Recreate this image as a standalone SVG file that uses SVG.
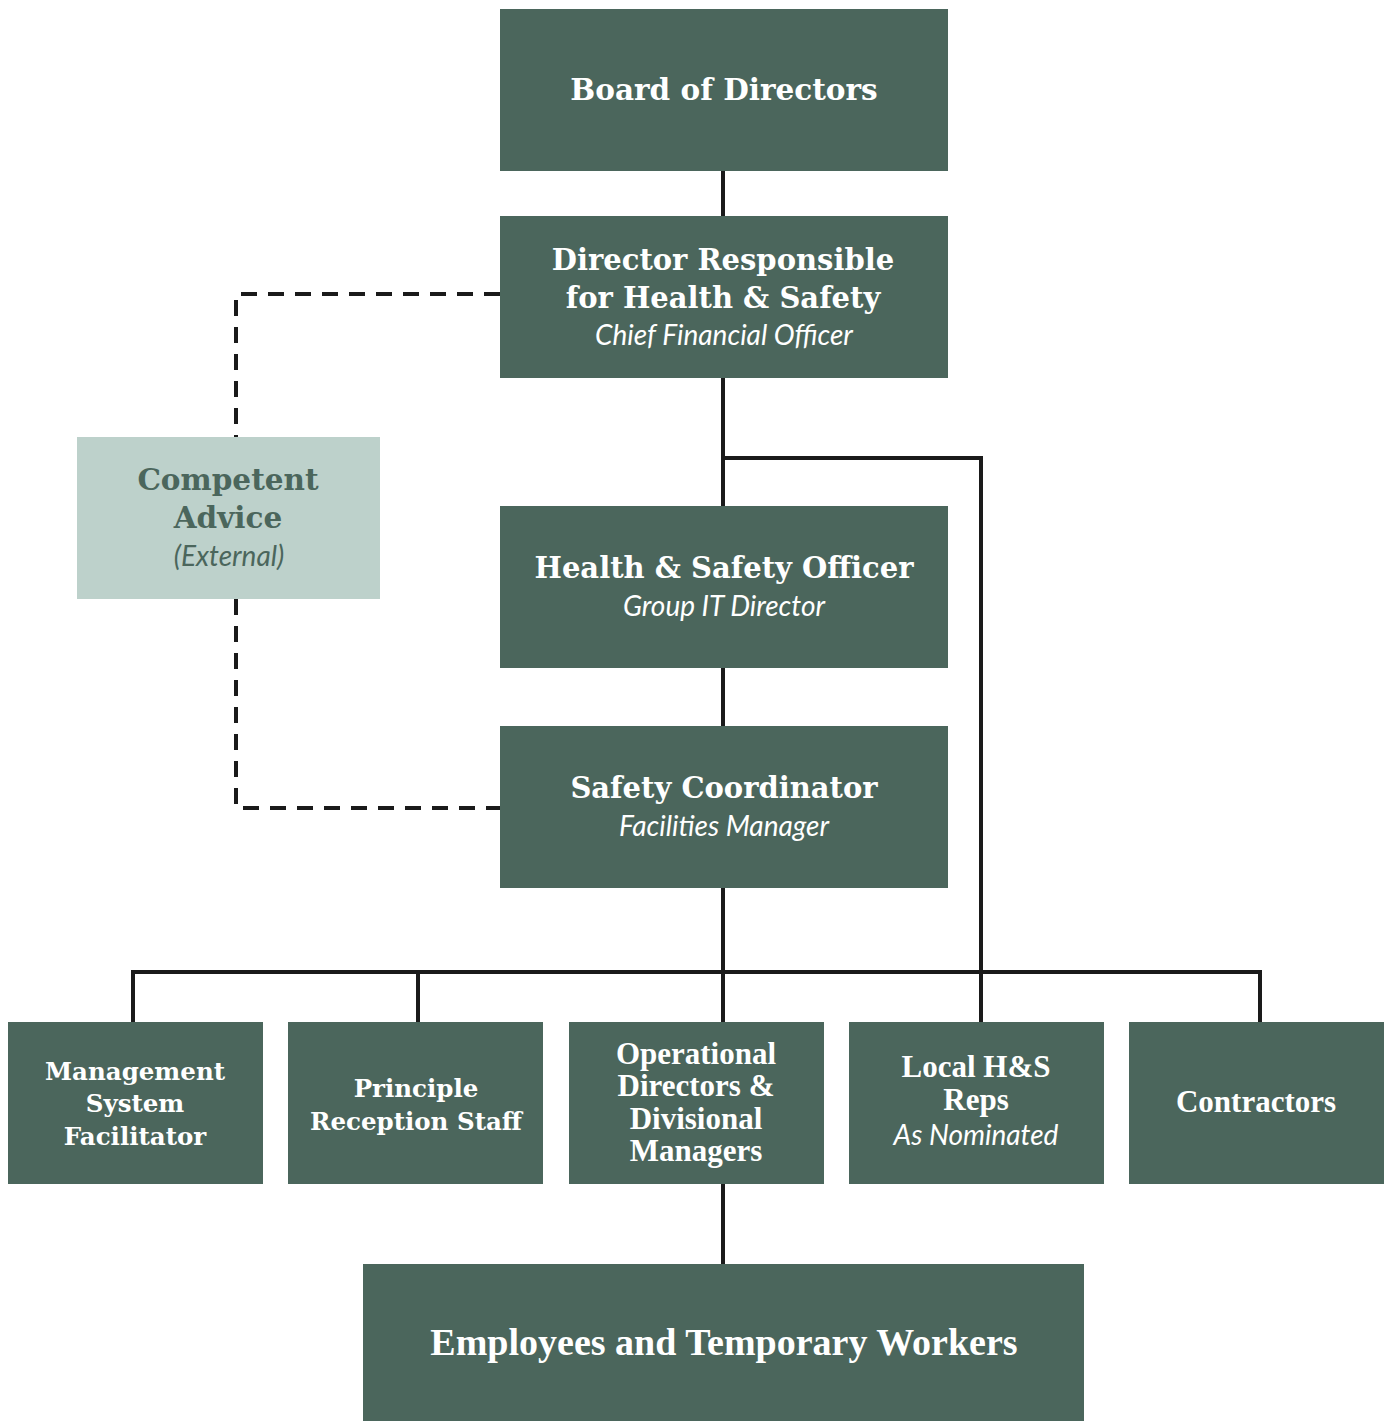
<svg xmlns="http://www.w3.org/2000/svg" width="1390" height="1421" viewBox="0 0 1390 1421">
<style>
.box{fill:#4b665c}
.light{fill:#bdd1cb}
.t{font-family:"DejaVu Serif","Liberation Serif",serif;font-weight:bold;fill:#ffffff;text-anchor:middle}
.tl{font-family:"DejaVu Serif","Liberation Serif",serif;font-weight:bold;fill:#4b665c;text-anchor:middle}
.tn{font-family:"Liberation Serif",serif;font-weight:bold;fill:#ffffff;text-anchor:middle}
.s{font-family:"Lato","Open Sans",sans-serif;font-style:italic;fill:#ffffff;text-anchor:middle}
.sl{font-family:"Lato","Open Sans",sans-serif;font-style:italic;fill:#4b665c;text-anchor:middle}
.c{fill:none;stroke:#1a1a1a;stroke-width:4}
.d{fill:none;stroke:#1a1a1a;stroke-width:4;stroke-dasharray:16 11}
</style>
<rect width="1390" height="1421" fill="#ffffff"/>
<g id="connectors">
<path class="c" d="M723 171V216M723 378V506M723 668V726M723 888V1022M723 458H981V1022M133 1022V972H1260V1022M418 972V1022M723 1184V1264"/>
<path class="d" d="M500 294H236V437M236 599V808H500"/>
</g>
<g id="board"><rect class="box" x="500" y="9" width="448" height="162"/>
<text class="t" x="724" y="100" font-size="29.5">Board of Directors</text></g>
<g id="director"><rect class="box" x="500" y="216" width="448" height="162"/>
<text class="t" x="723" y="270" font-size="29">Director Responsible</text>
<text class="t" x="723" y="308" font-size="29">for Health &amp; Safety</text>
<text class="s" x="724" y="345" font-size="28">Chief Financial Officer</text></g>
<g id="competent"><rect class="light" x="77" y="437" width="303" height="162"/>
<text class="tl" x="228" y="490" font-size="29.5">Competent</text>
<text class="tl" x="228" y="528" font-size="29.5">Advice</text>
<text class="sl" x="229" y="566" font-size="28">(External)</text></g>
<g id="hso"><rect class="box" x="500" y="506" width="448" height="162"/>
<text class="t" x="724" y="578" font-size="29">Health &amp; Safety Officer</text>
<text class="s" x="724" y="616" font-size="28">Group IT Director</text></g>
<g id="coordinator"><rect class="box" x="500" y="726" width="448" height="162"/>
<text class="t" x="724" y="798" font-size="29">Safety Coordinator</text>
<text class="s" x="724" y="836" font-size="28">Facilities Manager</text></g>
<g id="msf"><rect class="box" x="8" y="1022" width="255" height="162"/>
<text class="t" x="135" y="1080" font-size="24.5">Management</text>
<text class="t" x="135" y="1112" font-size="24.5">System</text>
<text class="t" x="135" y="1145" font-size="24.5">Facilitator</text></g>
<g id="reception"><rect class="box" x="288" y="1022" width="255" height="162"/>
<text class="t" x="416" y="1097" font-size="24.5">Principle</text>
<text class="t" x="416" y="1130" font-size="24.5">Reception Staff</text></g>
<g id="operational"><rect class="box" x="569" y="1022" width="255" height="162"/>
<text class="tn" x="696" y="1064" font-size="31">Operational</text>
<text class="tn" x="696" y="1096" font-size="31">Directors &amp;</text>
<text class="tn" x="696" y="1129" font-size="31">Divisional</text>
<text class="tn" x="696" y="1161" font-size="31">Managers</text></g>
<g id="local"><rect class="box" x="849" y="1022" width="255" height="162"/>
<text class="tn" x="976" y="1077" font-size="31">Local H&amp;S</text>
<text class="tn" x="976" y="1110" font-size="31">Reps</text>
<text class="s" x="976" y="1145" font-size="28">As Nominated</text></g>
<g id="contractors"><rect class="box" x="1129" y="1022" width="255" height="162"/>
<text class="tn" x="1256" y="1112" font-size="31">Contractors</text></g>
<g id="employees"><rect class="box" x="363" y="1264" width="721" height="157"/>
<text class="tn" x="724" y="1355" font-size="38">Employees and Temporary Workers</text></g>
</svg>
